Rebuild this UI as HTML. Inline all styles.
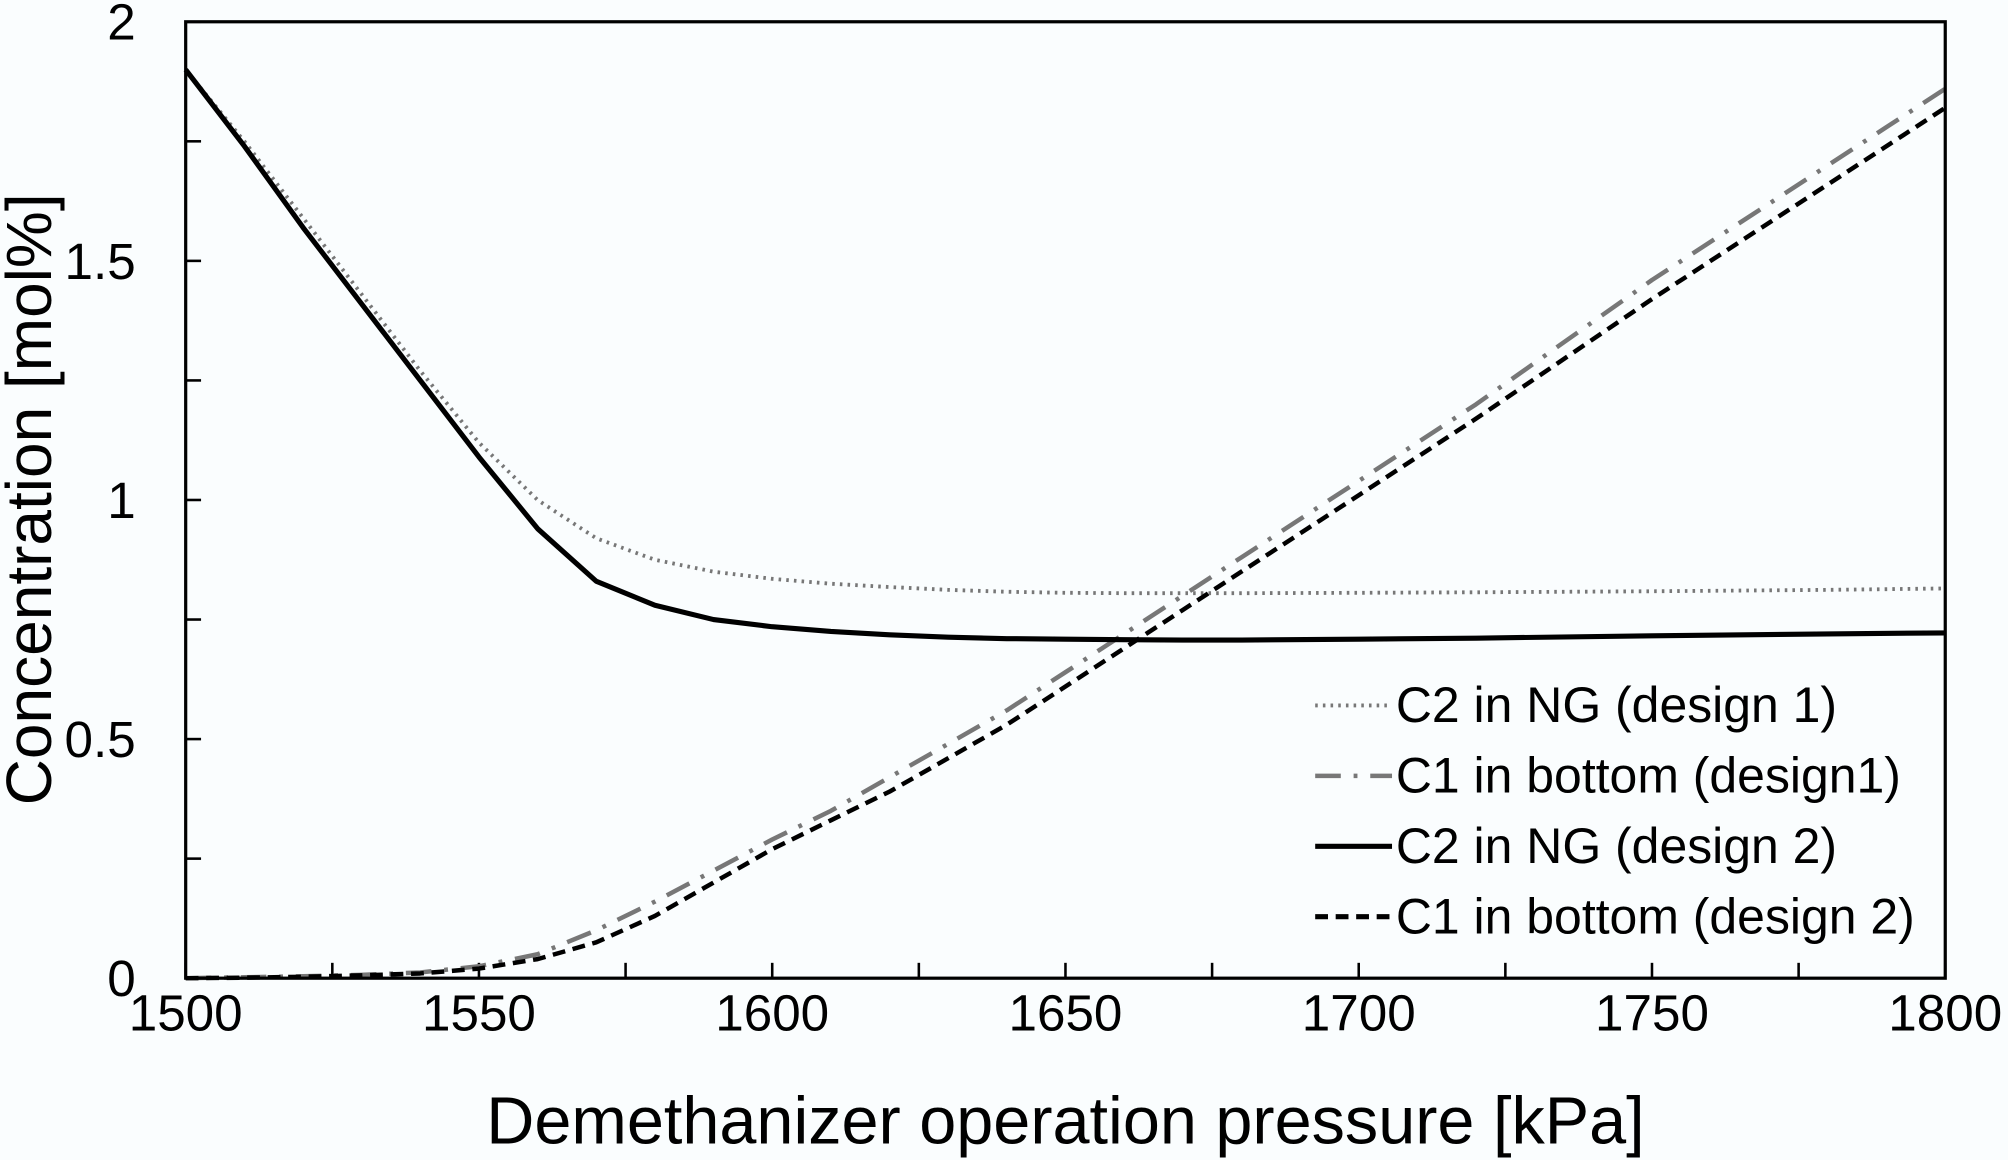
<!DOCTYPE html>
<html><head><meta charset="utf-8"><style>
html,body{margin:0;padding:0;background:#fafdfe;}
svg{display:block;}
text{font-family:"Liberation Sans",Arial,sans-serif;fill:#000;}
</style></head><body>
<svg id="chart" width="2008" height="1160" viewBox="0 0 1568 906" preserveAspectRatio="none" xmlns="http://www.w3.org/2000/svg">
<rect width="1568" height="906" fill="#fafdfe"/>
<g id="ticks"></g>
<g id="series"></g>
<rect x="145" y="17" width="1374" height="747" fill="none" stroke="#000" stroke-width="2.5"/>
<text x="832" y="893" font-size="52" text-anchor="middle">Demethanizer operation pressure [kPa]</text>
<text transform="translate(40,390) rotate(-90)" font-size="50" text-anchor="middle">Concentration [mol%]</text>
<g font-size="39">
 <line x1="1027" y1="551" x2="1087" y2="551" stroke="#777" stroke-width="3" stroke-dasharray="2,4"/>
 <text x="1090" y="564">C2 in NG (design 1)</text>
 <line x1="1027" y1="606" x2="1087" y2="606" stroke="#777" stroke-width="3.5" stroke-dasharray="20,10,3,10"/>
 <text x="1090" y="619">C1 in bottom (design1)</text>
 <line x1="1027" y1="661" x2="1087" y2="661" stroke="#000" stroke-width="4"/>
 <text x="1090" y="674">C2 in NG (design 2)</text>
 <line x1="1027" y1="716" x2="1087" y2="716" stroke="#000" stroke-width="4" stroke-dasharray="10,6"/>
 <text x="1090" y="729">C1 in bottom (design 2)</text>
</g>
</svg>
<script>
const xTickLabels = [1500,1550,1600,1650,1700,1750,1800];
const yTickLabels = ["0","0.5","1","1.5","2"];
const yTickValues = [0,0.5,1,1.5,2];
const pressure = [1500,1510,1520,1530,1540,1550,1560,1570,1580,1590,1600,1610,1620,1630,1640,1650,1660,1670,1680,1700,1720,1750,1780,1800];
const c2Design1 = [1.9,1.75,1.59,1.43,1.27,1.12,1.0,0.92,0.875,0.85,0.835,0.825,0.818,0.812,0.808,0.806,0.805,0.805,0.805,0.806,0.807,0.809,0.812,0.815];
const c1Design1 = [0,0.002,0.004,0.007,0.012,0.025,0.05,0.1,0.16,0.225,0.29,0.35,0.42,0.49,0.56,0.64,0.72,0.80,0.88,1.04,1.20,1.46,1.70,1.86];
const c2Design2 = [1.9,1.74,1.57,1.41,1.25,1.09,0.94,0.83,0.78,0.75,0.735,0.725,0.718,0.713,0.71,0.709,0.708,0.707,0.707,0.709,0.711,0.716,0.72,0.722];
const c1Design2 = [0,0.001,0.003,0.006,0.01,0.02,0.04,0.075,0.13,0.2,0.27,0.33,0.39,0.46,0.53,0.61,0.69,0.77,0.85,1.01,1.17,1.42,1.66,1.82];

const X0=145,X1=1519,Y0=764,Y1=17;
function xScale(v){return X0+(v-1500)/300*(X1-X0);}
function yScale(v){return Y0-(v/2)*(Y0-Y1);}
const NS="http://www.w3.org/2000/svg";
const tg=document.getElementById('ticks');
function mk(tag,attrs,parent){const e=document.createElementNS(NS,tag);for(const k in attrs)e.setAttribute(k,attrs[k]);parent.appendChild(e);return e;}
for(let v=1500;v<=1800;v+=25){
  const t=mk('line',{x1:xScale(v),x2:xScale(v),y1:Y0,y2:Y0-12,stroke:'#000','stroke-width':2},tg);
  
  
}
xTickLabels.forEach(v=>{
  const t=mk('text',{x:xScale(v),y:805,'font-size':40,'text-anchor':'middle'},tg);
  t.textContent=v;
  
  
});
for(let v=0;v<=2;v+=0.25){
  const t=mk('line',{x1:X0,x2:X0+12,y1:yScale(v),y2:yScale(v),stroke:'#000','stroke-width':2},tg);
  
  
}
yTickValues.forEach((v,i)=>{
  const t=mk('text',{x:106,y:yScale(v)+14,'font-size':40,'text-anchor':'end'},tg);
  t.textContent=yTickLabels[i];
  
  
});
const sg=document.getElementById('series');
function line(vals,name,stroke,w,dash){
  const d=vals.map((v,i)=>(i?'L':'M')+xScale(pressure[i]).toFixed(1)+','+yScale(v).toFixed(1)).join(' ');
  const p=mk('path',{d:d,fill:'none',stroke:stroke,'stroke-width':w,'stroke-linejoin':'round'},sg);
  if(dash)p.setAttribute('stroke-dasharray',dash);
  
  
}
line(c2Design1,'c2-design1-line','#777',3,'2,4');
line(c1Design1,'c1-design1-line','#777',3.5,'20,10,3,10');
line(c2Design2,'c2-design2-line','#000',4,null);
line(c1Design2,'c1-design2-line','#000',3.5,'10,6');
</script>
</body></html>
